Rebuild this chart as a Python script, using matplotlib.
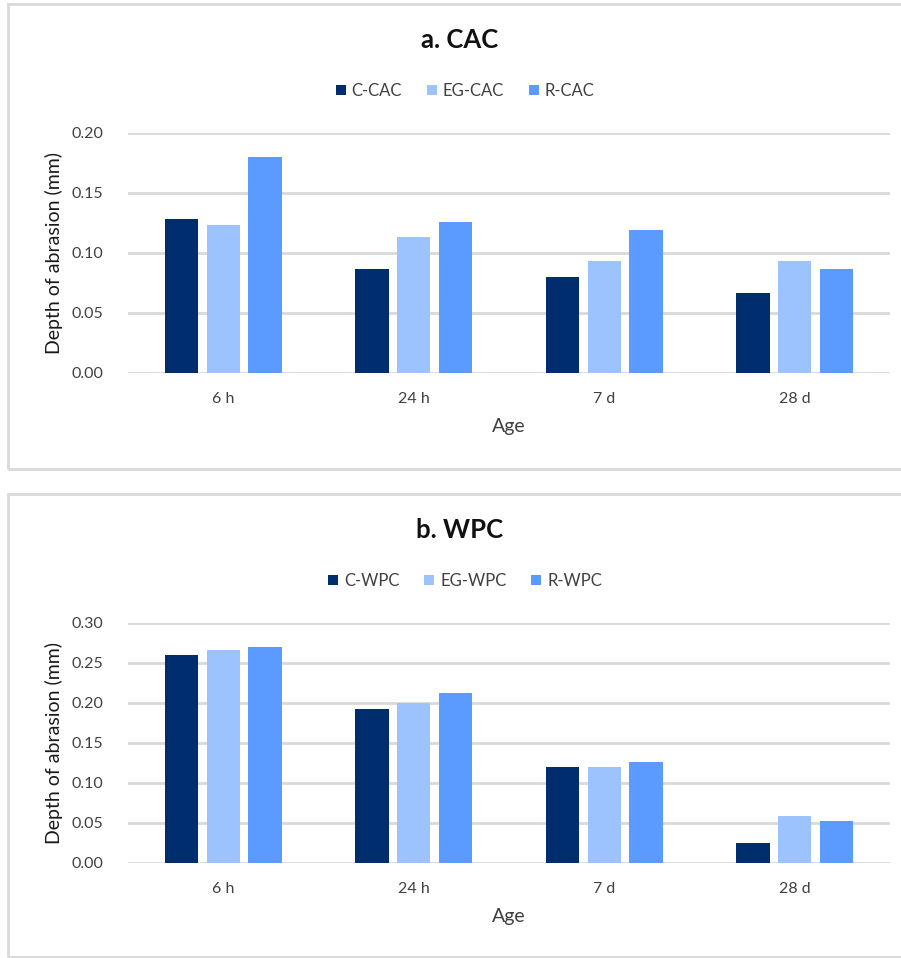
import numpy as np
import matplotlib
matplotlib.use('Agg')
import matplotlib.pyplot as plt
from matplotlib.patches import Rectangle

plt.rcParams['font.family'] = ['Lato', 'DejaVu Sans']

# ── data ─────────────────────────────────────────────────────────────────────
ages = ['6 h', '24 h', '7 d', '28 d']

cac_labels = ['C-CAC', 'EG-CAC', 'R-CAC']
cac_c  = [0.128, 0.087, 0.080, 0.067]
cac_eg = [0.123, 0.113, 0.093, 0.093]
cac_r  = [0.180, 0.126, 0.119, 0.087]

wpc_labels = ['C-WPC', 'EG-WPC', 'R-WPC']
wpc_c  = [0.260, 0.192, 0.120, 0.025]
wpc_eg = [0.266, 0.200, 0.120, 0.059]
wpc_r  = [0.270, 0.213, 0.126, 0.053]

COLORS = ['#002D6E', '#9DC3FF', '#5B9BFF']
GRID   = '#D9D9D9'
TXT    = '#404040'

W, H = 901, 958
fig = plt.figure(figsize=(W / 100, H / 100), dpi=100, facecolor='white')

def fx(px):
    return px / W

def fy(py):
    return 1 - py / H

# panel borders
for top, bot in [(4, 469), (494, 957)]:
    fig.patches.append(Rectangle((fx(8), fy(bot)), fx(W + 20 - 8), (bot - top) / H,
                                 transform=fig.transFigure, fill=False,
                                 ec=GRID, lw=2))


def panel(top0, zero, title, t_y, leg_y, labels, series, ymax, step):
    ax = fig.add_axes([fx(128), fy(zero), fx(890 - 128), (zero - top0) / H])
    x = np.arange(len(ages))
    offs = [-0.22, 0.0, 0.22]
    for vals, off, col, lab in zip(series, offs, COLORS, labels):
        ax.bar(x + off, vals, width=0.175, color=col, label=lab, zorder=3)
    ax.set_xlim(-0.5, len(ages) - 0.5)
    ax.set_ylim(0, ymax)
    ticks = np.arange(0, ymax + step / 2, step)
    ax.set_yticks(ticks)
    ax.set_yticklabels([f'{t:.2f}' for t in ticks], fontsize=11.5, color=TXT)
    ax.tick_params(length=0, pad=14)
    ax.tick_params(axis='y', pad=18)
    ax.set_xticks(x)
    ax.set_xticklabels(ages, fontsize=11.5, color=TXT)
    ax.grid(axis='y', color=GRID, lw=2, zorder=0)
    for s in ax.spines.values():
        s.set_visible(False)
    ax.set_xlabel('Age', fontsize=14, color=TXT, labelpad=8)
    ax.set_ylabel('Depth of abrasion (mm)', fontsize=14, color='#1a1a1a', labelpad=6)
    fig.text(fx(460), fy(t_y), title, ha='center', va='center',
             fontsize=18.5, fontweight='bold', color='#111111')
    fig.legend(*ax.get_legend_handles_labels(), loc='center',
               bbox_to_anchor=(fx(465), fy(leg_y)), ncol=3, frameon=False,
               fontsize=12, handlelength=0.6, handleheight=0.6,
               handletextpad=0.35, columnspacing=1.5, labelcolor=TXT)
    return ax


panel(133, 373, 'a. CAC', 40, 91, cac_labels, [cac_c, cac_eg, cac_r], 0.20, 0.05)
panel(623, 863, 'b. WPC', 530, 581, wpc_labels, [wpc_c, wpc_eg, wpc_r], 0.30, 0.05)

fig.savefig('out.png', dpi=100, facecolor='white')
